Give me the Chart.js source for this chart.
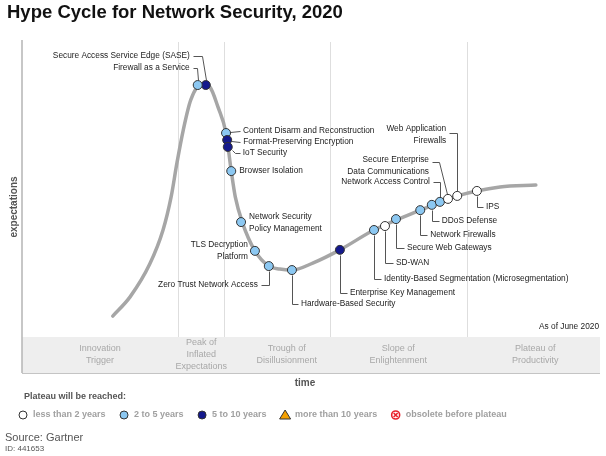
<!DOCTYPE html>
<html>
<head>
<meta charset="utf-8">
<script src="https://cdn.jsdelivr.net/npm/chart.js@4"></script>
<style>
  html, body { margin: 0; padding: 0; background: #fff; }
  #hype { display: block; }
</style>
</head>
<body>
<canvas id="hype" width="606" height="456"></canvas>
<script>
// ---- data (time 0..100 across the plot, expectations 0..100 up the plot) ----
const titleText = 'Hype Cycle for Network Security, 2020';

const phaseNames = ['Innovation\nTrigger', 'Peak of\nInflated\nExpectations', 'Trough of\nDisillusionment', 'Slope of\nEnlightenment', 'Plateau of\nProductivity'];
const phaseBounds = [27.0, 34.9, 53.3, 77.0];
const phaseCenters = [13.5, 31.0, 45.8, 65.1, 88.8];

// the hype curve
const curveTime =   [15.7, 18.7, 22.1, 24.4, 25.8, 26.8, 27.9, 29.2, 31.1, 32.5, 33.9, 35.3, 36.2, 36.9, 38.1, 40.3, 42.7, 44.6, 46.7, 50.3, 55.0, 60.9, 68.9, 75.3, 82.7, 88.9];
const curveExpect = [17.2, 23.0, 32.9, 43.2, 53.2, 63.4, 73.4, 82.5, 87.3, 86.4, 80.4, 72.5, 61.0, 53.2, 45.6, 36.9, 32.3, 31.4, 31.1, 33.2, 37.2, 43.2, 49.2, 53.5, 56.2, 56.8];

const plateauNames = ['less than 2 years', '2 to 5 years', '5 to 10 years', 'more than 10 years', 'obsolete before plateau'];

const techNames = [
  'Secure Access Service Edge (SASE)',
  'Firewall as a Service',
  'Content Disarm and Reconstruction',
  'Format-Preserving Encryption',
  'IoT Security',
  'Browser Isolation',
  'Network Security\nPolicy Management',
  'TLS Decryption\nPlatform',
  'Zero Trust Network Access',
  'Hardware-Based Security',
  'Enterprise Key Management',
  'Identity-Based Segmentation (Microsegmentation)',
  'SD-WAN',
  'Secure Web Gateways',
  'Network Firewalls',
  'DDoS Defense',
  'Network Access Control',
  'Secure Enterprise\nData Communications',
  'Web Application\nFirewalls',
  'IPS'
];
const techTime =   [31.8, 30.4, 35.3, 35.5, 35.6, 36.2, 37.9, 40.3, 42.7, 46.7, 55.0, 60.9, 62.8, 64.7, 68.9, 70.9, 72.3, 73.7, 75.3, 78.7];
const techExpect = [87.0, 87.0, 72.5, 70.4, 68.3, 61.0, 45.6, 36.9, 32.3, 31.1, 37.2, 43.2, 44.4, 46.5, 49.2, 50.8, 51.7, 52.6, 53.5, 55.0];
const techPlateau = [2, 1, 1, 2, 2, 1, 1, 1, 1, 1, 2, 1, 0, 1, 1, 1, 1, 0, 0, 0];

// ---- styles ----
const FONT = '"Liberation Sans", Arial, sans-serif';
const plateauColors = ['#ffffff', '#8cc8f2', '#14198c', '#f5a000', '#ffffff'];

// label placement relative to each dot (px): text anchor, alignment, leader polyline
const labelLayout = [
  { dx: -16, dy: -29, align: 'right', lead: [[-13, -29], [-4, -29], [0, -5]] },
  { dx: -8,  dy: -17, align: 'right', lead: [[-5, -17], [-1, -17], [0, -5]] },
  { dx: 17,  dy: -2,  align: 'left',  lead: [[4, -1], [14, -2]] },
  { dx: 16,  dy: 2,   align: 'left',  lead: [[4, 1], [13, 2]] },
  { dx: 15,  dy: 6,   align: 'left',  lead: [[4, 3], [7, 6], [12, 6]] },
  { dx: 8,   dy: 0,   align: 'left',  lead: null },
  { dx: 8,   dy: -5,  align: 'left',  lead: null },
  { dx: -7,  dy: -6,  align: 'right', lead: null },
  { dx: -11, dy: 19,  align: 'right', lead: [[0, 5], [0, 19], [-8, 19]] },
  { dx: 9,   dy: 34,  align: 'left',  lead: [[0, 5], [0, 34], [6, 34]] },
  { dx: 10,  dy: 43,  align: 'left',  lead: [[0, 5], [0, 43], [7, 43]] },
  { dx: 10,  dy: 49,  align: 'left',  lead: [[0, 5], [0, 49], [7, 49]] },
  { dx: 11,  dy: 37,  align: 'left',  lead: [[0, 5], [0, 37], [8, 37]] },
  { dx: 11,  dy: 29,  align: 'left',  lead: [[0, 5], [0, 29], [8, 29]] },
  { dx: 10,  dy: 25,  align: 'left',  lead: [[0, 5], [0, 25], [7, 25]] },
  { dx: 10,  dy: 16,  align: 'left',  lead: [[0, 5], [0, 16], [7, 16]] },
  { dx: -10, dy: -20, align: 'right', lead: [[-7, -20], [0, -20], [0, -5]] },
  { dx: -19, dy: -39, align: 'right', lead: [[-16, -37], [-9, -37], [-1, -5]] },
  { dx: -11, dy: -67, align: 'right', lead: [[-8, -63], [0, -63], [0, -5]] },
  { dx: 9,   dy: 16,  align: 'left',  lead: [[0, 5], [0, 16], [6, 16]] }
];

function drawMarker(ctx, kind, x, y, r) {
  ctx.save();
  ctx.lineWidth = 1;
  if (kind === 3) {
    ctx.beginPath();
    ctx.moveTo(x, y - r - 1);
    ctx.lineTo(x + r + 1.5, y + r);
    ctx.lineTo(x - r - 1.5, y + r);
    ctx.closePath();
    ctx.fillStyle = plateauColors[3];
    ctx.fill();
    ctx.strokeStyle = '#333';
    ctx.stroke();
  } else if (kind === 4) {
    ctx.beginPath();
    ctx.arc(x, y, r, 0, Math.PI * 2);
    ctx.fillStyle = '#fff';
    ctx.fill();
    ctx.strokeStyle = '#e8202a';
    ctx.lineWidth = 1.6;
    ctx.stroke();
    const k = r * 0.5;
    ctx.beginPath();
    ctx.moveTo(x - k, y - k); ctx.lineTo(x + k, y + k);
    ctx.moveTo(x + k, y - k); ctx.lineTo(x - k, y + k);
    ctx.stroke();
  } else {
    ctx.beginPath();
    ctx.arc(x, y, r, 0, Math.PI * 2);
    ctx.fillStyle = plateauColors[kind];
    ctx.fill();
    ctx.strokeStyle = '#333';
    ctx.stroke();
  }
  ctx.restore();
}

const hypeDecor = {
  id: 'hypeDecor',
  beforeDatasetsDraw(chart) {
    const { ctx, chartArea: a, scales: { x, y } } = chart;
    ctx.save();
    const bandTop = a.bottom - 36;
    // phase dividers
    ctx.strokeStyle = '#dedede';
    ctx.lineWidth = 1;
    phaseBounds.forEach(v => {
      const px = Math.round(x.getPixelForValue(v)) + 0.5;
      ctx.beginPath();
      ctx.moveTo(px, a.top);
      ctx.lineTo(px, bandTop);
      ctx.stroke();
    });
    // phase band
    ctx.fillStyle = '#eeeeee';
    ctx.fillRect(a.left, bandTop, a.right - a.left, a.bottom - bandTop);
    ctx.strokeStyle = '#c4c4c4';
    ctx.beginPath();
    ctx.moveTo(a.left, a.bottom + 0.5);
    ctx.lineTo(a.right, a.bottom + 0.5);
    ctx.stroke();
    // left axis
    ctx.strokeStyle = '#b4b4b4';
    ctx.lineWidth = 1.5;
    ctx.beginPath();
    ctx.moveTo(a.left, a.top - 2);
    ctx.lineTo(a.left, a.bottom);
    ctx.stroke();
    // phase labels
    ctx.fillStyle = '#a8a8a8';
    ctx.font = '9px ' + FONT;
    ctx.textAlign = 'center';
    ctx.textBaseline = 'middle';
    const midBand = (bandTop + a.bottom) / 2;
    phaseNames.forEach((n, i) => {
      const lines = n.split('\n');
      const cx = x.getPixelForValue(phaseCenters[i]);
      lines.forEach((l, j) => {
        ctx.fillText(l, cx, midBand + (j - (lines.length - 1) / 2) * 12);
      });
    });
    // leader lines
    ctx.strokeStyle = '#555';
    ctx.lineWidth = 1;
    techNames.forEach((n, i) => {
      const L = labelLayout[i];
      if (!L.lead) return;
      const px = x.getPixelForValue(techTime[i]);
      const py = y.getPixelForValue(techExpect[i]);
      ctx.beginPath();
      L.lead.forEach((p, k) => {
        const qx = Math.round(px + p[0]) + 0.5, qy = Math.round(py + p[1]) + 0.5;
        if (k === 0) ctx.moveTo(qx, qy); else ctx.lineTo(qx, qy);
      });
      ctx.stroke();
    });
    ctx.restore();
  },
  afterDatasetsDraw(chart) {
    const { ctx, chartArea: a, scales: { x, y } } = chart;
    ctx.save();
    ctx.fillStyle = '#222';
    ctx.font = '8.3px ' + FONT;
    ctx.textBaseline = 'middle';
    techNames.forEach((n, i) => {
      const L = labelLayout[i];
      const px = x.getPixelForValue(techTime[i]);
      const py = y.getPixelForValue(techExpect[i]);
      ctx.textAlign = L.align;
      n.split('\n').forEach((l, j) => ctx.fillText(l, px + L.dx, py + L.dy + j * 11.5));
    });
    ctx.textAlign = 'right';
    ctx.fillText('As of June 2020', a.right - 1, a.bottom - 46);
    ctx.restore();
  },
  afterDraw(chart) {
    const { ctx, chartArea: a } = chart;
    ctx.save();
    ctx.textBaseline = 'middle';
    // title
    ctx.fillStyle = '#111';
    ctx.font = 'bold 18.5px ' + FONT;
    ctx.textAlign = 'left';
    ctx.fillText(titleText, 7, 13);
    // axis titles
    ctx.fillStyle = '#555';
    ctx.font = 'bold 10px ' + FONT;
    ctx.textAlign = 'center';
    ctx.fillText('time', 305, a.bottom + 10);
    ctx.save();
    ctx.translate(14, 207);
    ctx.rotate(-Math.PI / 2);
    ctx.fillText('expectations', 0, 0);
    ctx.restore();
    // legend
    ctx.textAlign = 'left';
    ctx.font = 'bold 9px ' + FONT;
    ctx.fillStyle = '#555';
    ctx.fillText('Plateau will be reached:', 24, 397);
    const ly = 415;
    let lx = 23;
    plateauNames.forEach((n, i) => {
      drawMarker(ctx, i, lx, ly, 4);
      ctx.fillStyle = '#a0a0a0';
      ctx.fillText(n, lx + 10, ly);
      lx += 10 + ctx.measureText(n).width + 18.5;
    });
    // source
    ctx.fillStyle = '#555';
    ctx.font = '11px ' + FONT;
    ctx.fillText('Source: Gartner', 5, 438);
    ctx.font = '8px ' + FONT;
    ctx.fillText('ID: 441653', 5, 449);
    ctx.restore();
  }
};

const ctx = document.getElementById('hype');
const myChart = new Chart(ctx, {
  type: 'scatter',
  data: {
    datasets: [{
      label: 'Technologies',
      data: techTime.map((t, i) => ({ x: t, y: techExpect[i] })),
      pointRadius: 4.5,
      pointHoverRadius: 4.5,
      pointBackgroundColor: techPlateau.map(p => plateauColors[p]),
      pointBorderColor: '#333',
      pointBorderWidth: 1,
      showLine: false
    }, {
      label: 'Hype curve',
      data: curveTime.map((t, i) => ({ x: t, y: curveExpect[i] })),
      showLine: true,
      borderColor: '#a6a6a6',
      borderWidth: 3.5,
      pointRadius: 0,
      tension: 0.4,
      cubicInterpolationMode: 'monotone',
      borderCapStyle: 'round'
    }]
  },
  options: {
    responsive: false,
    animation: false,
    devicePixelRatio: 1,
    layout: { padding: { left: 22, right: 6, top: 42, bottom: 83 } },
    scales: {
      x: { type: 'linear', min: 0, max: 100, display: false },
      y: { type: 'linear', min: 0, max: 100, display: false }
    },
    plugins: {
      legend: { display: false },
      tooltip: { enabled: false }
    }
  },
  plugins: [hypeDecor]
});
</script>
</body>
</html>
